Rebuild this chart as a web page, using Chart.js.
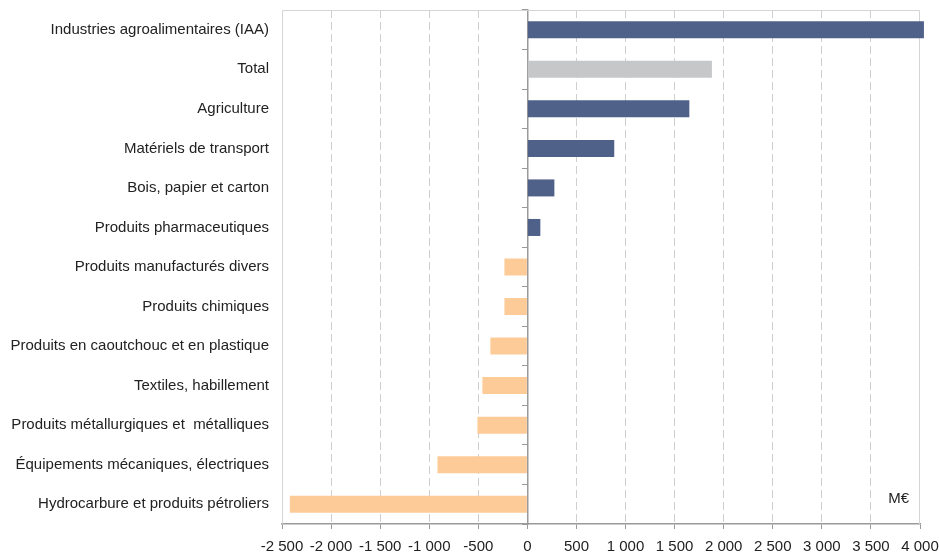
<!DOCTYPE html>
<html>
<head>
<meta charset="utf-8">
<script src="https://cdn.jsdelivr.net/npm/chart.js@4"></script>
<style>
html,body{margin:0;padding:0;background:#fff;}
#wrap{width:939px;height:553px;}
</style>
</head>
<body>
<div id="wrap"><canvas id="c" width="939" height="553"></canvas></div>
<script>
const categories = [
  "Industries agroalimentaires (IAA)",
  "Total",
  "Agriculture",
  "Matériels de transport",
  "Bois, papier et carton",
  "Produits pharmaceutiques",
  "Produits manufacturés divers",
  "Produits chimiques",
  "Produits en caoutchouc et en plastique",
  "Textiles, habillement",
  "Produits métallurgiques et  métalliques",
  "Équipements mécaniques, électriques",
  "Hydrocarbure et produits pétroliers"
];
const values = [4040, 1880, 1650, 885, 275, 132, -234, -234, -377, -458, -509, -916, -2420];
const xTicks = [-2500, -2000, -1500, -1000, -500, 0, 500, 1000, 1500, 2000, 2500, 3000, 3500, 4000];
const unitLabel = "M€";

const NAVY = "#4f6089", GREY = "#c6c7c9", ORANGE = "#fdcb98";
const colors = values.map((v, i) => categories[i] === "Total" ? GREY : (v >= 0 ? NAVY : ORANGE));
const FONT = "'Liberation Sans', Arial, sans-serif";

function fmt(v) {
  const s = Math.abs(v).toString().replace(/\B(?=(\d{3})+(?!\d))/g, " ");
  return (v < 0 ? "-" : "") + s;
}

const framePlugin = {
  id: "frame",
  beforeDatasetsDraw(chart) {
    const {ctx, chartArea: a} = chart;
    ctx.save();
    ctx.strokeStyle = "#d4d4d4";
    ctx.lineWidth = 1;
    ctx.beginPath();
    ctx.moveTo(a.left + 0.5, a.bottom);
    ctx.lineTo(a.left + 0.5, a.top + 0.5);
    ctx.lineTo(a.right - 0.5, a.top + 0.5);
    ctx.lineTo(a.right - 0.5, a.bottom);
    ctx.stroke();
    ctx.restore();
  },
  afterDraw(chart) {
    const {ctx, chartArea: a} = chart;
    ctx.save();
    ctx.font = "15px " + FONT;
    ctx.fillStyle = "#222";
    ctx.textAlign = "right";
    ctx.textBaseline = "middle";
    ctx.fillText(unitLabel, a.right - 11, a.bottom - 25);
    ctx.restore();
  }
};

new Chart(document.getElementById("c"), {
  type: "bar",
  data: {
    labels: categories,
    datasets: [{
      data: values,
      backgroundColor: colors,
      borderWidth: 0,
      categoryPercentage: 1,
      barPercentage: 0.43,
      clip: false
    }]
  },
  options: {
    indexAxis: "y",
    responsive: false,
    animation: false,
    devicePixelRatio: 1,
    layout: {padding: {left: 0, right: 19, top: 10, bottom: 0}},
    plugins: {legend: {display: false}, tooltip: {enabled: false}},
    scales: {
      x: {
        type: "linear",
        min: -2500, max: 4000,
        afterBuildTicks(s) { s.ticks = xTicks.map(v => ({value: v})); },
        afterFit(s) { s.height = 29; s.paddingLeft = 0; s.paddingRight = 0; },
        ticks: {
          callback: v => fmt(v),
          font: {family: FONT, size: 15},
          color: "#222",
          padding: 9,
          maxRotation: 0,
          autoSkip: false
        },
        grid: {
          color: ctx => (ctx.tick && (ctx.tick.value === 0 || ctx.tick.value === -2500 || ctx.tick.value === 4000)) ? "rgba(0,0,0,0)" : "#cfcfcf",
          lineWidth: 1,
          drawTicks: true,
          tickLength: 5,
          tickColor: "#9a9a9a"
        },
        border: {display: true, color: "#9a9a9a", width: 1.5, dash: [8, 4]}
      },
      y: {
        position: "left",
        afterFit(s) { s.width = 282; s.paddingTop = 0; s.paddingBottom = 0; },
        ticks: {
          font: {family: FONT, size: 15},
          color: "#222",
          padding: 13
        },
        grid: {display: false, drawTicks: false},
        border: {display: false}
      },
      y2: {
        type: "category",
        labels: categories,
        position: {x: 0},
        offset: true,
        ticks: {display: false},
        grid: {
          display: true,
          drawOnChartArea: false,
          drawTicks: true,
          tickLength: 5,
          offset: true,
          tickColor: "#9a9a9a"
        },
        border: {display: true, color: "#9a9a9a", width: 1.5}
      }
    }
  },
  plugins: [framePlugin]
});
</script>
</body>
</html>
